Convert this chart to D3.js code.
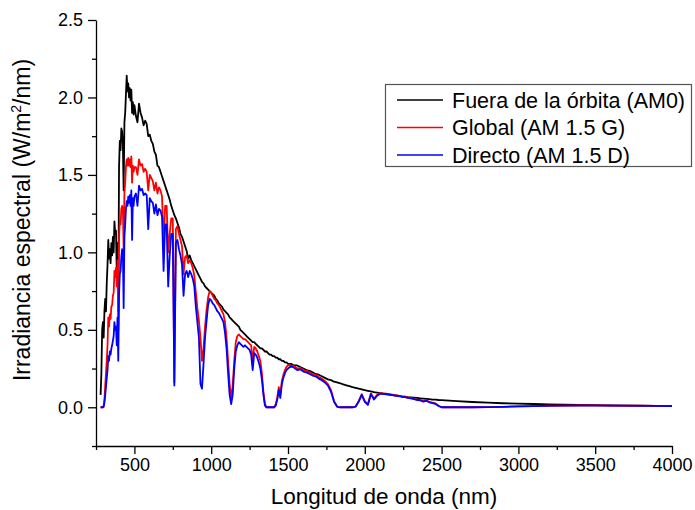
<!DOCTYPE html>
<html>
<head>
<meta charset="utf-8">
<script src="https://cdn.jsdelivr.net/npm/d3@7"></script>
<style>
body { margin: 0; background: #fff; }
#chart { width: 695px; height: 510px; }
text { font-family: Arial, "Liberation Sans", sans-serif; }
</style>
</head>
<body>
<div id="chart"></div>
<script>
// Data (nm, W/m2/nm)
var wavelength = [
    280, 285, 290, 295, 300, 305, 310, 315, 320, 325, 330, 335, 340, 345, 350, 355, 360, 365, 370, 375, 380, 385, 390, 395, 400,
    405, 410, 415, 420, 425, 430, 435, 440, 445, 450, 455, 460, 465, 470, 475, 480, 485, 490, 495, 500,
    510, 520, 530, 540, 550, 560, 570, 580, 590, 600, 610, 620, 630, 640, 650, 660, 670, 680, 690, 700, 710, 720, 730, 740, 750,
    760, 770, 780, 790, 800, 810, 820, 830, 840, 850, 860, 870, 880, 890, 900, 910, 920, 930, 940, 950, 960, 970, 980, 990, 1000,
    1010, 1020, 1030, 1040, 1050, 1060, 1070, 1080, 1090, 1100, 1110, 1120, 1130, 1140, 1150, 1160, 1170, 1180, 1190, 1200,
    1210, 1220, 1230, 1240, 1250, 1260, 1270, 1280, 1290, 1300, 1310, 1320, 1330, 1340, 1350, 1360, 1370, 1380, 1390, 1400,
    1410, 1420, 1430, 1440, 1450, 1460, 1470, 1480, 1490, 1500,
    1520, 1540, 1560, 1580, 1600, 1620, 1640, 1660, 1680, 1700, 1720, 1740, 1760, 1780, 1800, 1820, 1840, 1860, 1880, 1900,
    1920, 1940, 1960, 1980, 2000, 2020, 2040, 2060, 2080, 2100, 2120, 2140, 2160, 2180, 2200, 2220, 2240, 2260, 2280, 2300,
    2320, 2340, 2360, 2380, 2400, 2420, 2440, 2460, 2480, 2500,
    2600, 2700, 2800, 2900, 3000, 3100, 3200, 3300, 3400, 3500, 3600, 3700, 3800, 3900, 4000
];

var am0 = [
    0.08, 0.22, 0.50, 0.55, 0.45, 0.62, 0.70, 0.62, 0.80, 0.92, 1.08, 0.96, 1.02, 0.93, 1.06, 0.98, 1.10, 1.00, 1.20, 1.12,
    1.14, 0.88, 1.06, 0.62, 1.55, 1.72, 1.66, 1.80, 1.78, 1.70, 1.40, 1.84, 1.90, 2.02, 2.14, 2.04, 2.09, 2.00, 2.06, 1.98,
    2.05, 1.90, 1.97, 1.89, 1.95,
    1.88, 1.84, 1.96, 1.90, 1.87, 1.82, 1.85, 1.83, 1.75, 1.76, 1.72, 1.70, 1.65, 1.63, 1.56, 1.55, 1.52, 1.49, 1.46, 1.43,
    1.40, 1.37, 1.34, 1.30, 1.27, 1.24, 1.22, 1.19, 1.16, 1.12, 1.10, 1.07, 1.04, 1.01, 0.96, 0.98, 0.95, 0.93, 0.91, 0.89,
    0.87, 0.85, 0.83, 0.81, 0.80, 0.78, 0.77, 0.76, 0.75, 0.74,
    0.73, 0.72, 0.70, 0.69, 0.67, 0.66, 0.65, 0.63, 0.62, 0.61, 0.60, 0.58, 0.57, 0.56, 0.55, 0.54, 0.53, 0.52, 0.50, 0.49,
    0.48, 0.47, 0.46, 0.45, 0.44, 0.43, 0.42, 0.42, 0.41, 0.40, 0.39, 0.38, 0.38, 0.37, 0.36, 0.36, 0.35, 0.34, 0.34, 0.33,
    0.33, 0.32, 0.32, 0.31, 0.31, 0.30, 0.30, 0.29, 0.29, 0.28,
    0.28, 0.27, 0.27, 0.26, 0.25, 0.24, 0.235, 0.225, 0.215, 0.21, 0.20, 0.19, 0.18, 0.175, 0.165, 0.16, 0.155, 0.148, 0.142, 0.136,
    0.13, 0.125, 0.12, 0.115, 0.11, 0.106, 0.102, 0.098, 0.095, 0.092, 0.088, 0.085, 0.082, 0.079, 0.076, 0.074, 0.071, 0.069, 0.066, 0.064,
    0.062, 0.06, 0.058, 0.056, 0.054, 0.052, 0.05, 0.049, 0.047, 0.046,
    0.040, 0.034, 0.030, 0.026, 0.023, 0.021, 0.019, 0.017, 0.015, 0.014, 0.012, 0.011, 0.010, 0.009, 0.0085
];

var globalAM15 = [
    0, 0, 0, 0, 0.01, 0.05, 0.14, 0.22, 0.30, 0.40, 0.58, 0.52, 0.60, 0.57, 0.65, 0.66, 0.72, 0.74, 0.88, 0.84,
    0.90, 0.78, 0.95, 0.50, 1.10, 1.20, 1.18, 1.28, 1.30, 1.28, 1.02, 1.38, 1.45, 1.55, 1.60, 1.56, 1.61, 1.56, 1.60, 1.55,
    1.62, 1.45, 1.56, 1.52, 1.55,
    1.55, 1.50, 1.60, 1.56, 1.57, 1.52, 1.54, 1.52, 1.40, 1.50, 1.48, 1.46, 1.40, 1.45, 1.38, 1.42, 1.40, 1.36, 1.05, 1.30,
    1.30, 1.00, 1.12, 1.22, 1.22, 0.16, 1.15, 1.17, 1.12, 1.08, 1.04, 0.86, 0.97, 0.98, 0.93, 0.95, 0.93, 0.90, 0.85, 0.74,
    0.64, 0.56, 0.45, 0.30, 0.38, 0.52, 0.63, 0.71, 0.75, 0.74,
    0.72, 0.70, 0.69, 0.67, 0.66, 0.64, 0.62, 0.60, 0.55, 0.45, 0.30, 0.15, 0.06, 0.14, 0.30, 0.42, 0.46, 0.47, 0.46, 0.45,
    0.44, 0.44, 0.43, 0.42, 0.41, 0.40, 0.30, 0.39, 0.38, 0.36, 0.33, 0.30, 0.22, 0.10, 0.02, 0, 0, 0, 0, 0,
    0, 0.02, 0.06, 0.13, 0.08, 0.17, 0.21, 0.24, 0.26, 0.27,
    0.27, 0.265, 0.25, 0.255, 0.24, 0.235, 0.225, 0.215, 0.21, 0.195, 0.185, 0.17, 0.15, 0.11, 0.04, 0.005, 0, 0, 0, 0,
    0, 0.005, 0.04, 0.085, 0.04, 0.02, 0.09, 0.055, 0.08, 0.092, 0.09, 0.088, 0.085, 0.082, 0.078, 0.075, 0.07, 0.068, 0.063, 0.06,
    0.055, 0.05, 0.048, 0.04, 0.045, 0.035, 0.03, 0.025, 0.01, 0,
    0, 0, 0.001, 0.003, 0.006, 0.008, 0.010, 0.011, 0.012, 0.012, 0.011, 0.010, 0.010, 0.009, 0.0085
];

var directAM15 = [
    0, 0, 0, 0, 0.002, 0.03, 0.08, 0.13, 0.19, 0.24, 0.33, 0.30, 0.36, 0.34, 0.38, 0.40, 0.43, 0.46, 0.55, 0.50,
    0.52, 0.40, 0.58, 0.30, 0.72, 0.86, 0.88, 0.97, 1.02, 1.00, 0.64, 1.10, 1.18, 1.28, 1.33, 1.30, 1.36, 1.32, 1.37, 1.30,
    1.40, 1.08, 1.35, 1.30, 1.36,
    1.38, 1.30, 1.43, 1.40, 1.41, 1.37, 1.38, 1.37, 1.15, 1.35, 1.33, 1.32, 1.25, 1.31, 1.24, 1.28, 1.27, 1.23, 0.88, 1.18,
    1.18, 0.78, 0.98, 1.12, 1.12, 0.14, 1.06, 1.08, 1.02, 0.98, 0.92, 0.72, 0.86, 0.88, 0.84, 0.88, 0.86, 0.83, 0.78, 0.65,
    0.55, 0.45, 0.15, 0.12, 0.28, 0.45, 0.56, 0.66, 0.70, 0.69,
    0.67, 0.66, 0.64, 0.62, 0.61, 0.59, 0.57, 0.55, 0.48, 0.38, 0.22, 0.08, 0.02, 0.08, 0.25, 0.36, 0.40, 0.42, 0.41, 0.40,
    0.39, 0.40, 0.39, 0.38, 0.37, 0.34, 0.24, 0.35, 0.34, 0.32, 0.29, 0.25, 0.18, 0.08, 0.01, 0, 0, 0, 0, 0,
    0, 0.01, 0.05, 0.11, 0.06, 0.15, 0.19, 0.22, 0.24, 0.25,
    0.265, 0.255, 0.24, 0.245, 0.23, 0.225, 0.215, 0.205, 0.2, 0.185, 0.175, 0.16, 0.14, 0.10, 0.035, 0.003, 0, 0, 0, 0,
    0, 0.004, 0.035, 0.08, 0.035, 0.015, 0.085, 0.05, 0.075, 0.088, 0.086, 0.084, 0.082, 0.078, 0.075, 0.072, 0.068, 0.065, 0.06, 0.057,
    0.052, 0.047, 0.045, 0.036, 0.042, 0.032, 0.027, 0.022, 0.008, 0,
    0, 0, 0.001, 0.003, 0.006, 0.007, 0.009, 0.010, 0.011, 0.011, 0.010, 0.010, 0.009, 0.009, 0.008
];

var seriesNames = ["Fuera de la órbita (AM0)", "Global (AM 1.5 G)", "Directo (AM 1.5 D)"];
var seriesColors = ["#000000", "#ff0000", "#0000ff"];

var xTicks = [500, 1000, 1500, 2000, 2500, 3000, 3500, 4000];
var xMinorTicks = [250, 750, 1250, 1750, 2250, 2750, 3250, 3750];
var yTicks = [0, 0.5, 1.0, 1.5, 2.0, 2.5];
var yMinorTicks = [-0.25, 0.25, 0.75, 1.25, 1.75, 2.25];

// SVG
var width = 695;
var height = 510;
var svg = d3.select("#chart")
    .append("svg")
    .attr("width", width)
    .attr("height", height);

var x = d3.scaleLinear().domain([250, 4000]).range([96, 672]);
var y = d3.scaleLinear().domain([-0.25, 2.5]).range([446, 20]);

var series = [am0, globalAM15, directAM15].map(function (vals, i) {
    return {
        name: seriesNames[i],
        color: seriesColors[i],
        values: wavelength.map(function (w, j) { return { w: w, e: vals[j] }; })
    };
});

var line = d3.line()
    .x(function (d) { return x(d.w); })
    .y(function (d) { return y(d.e); });

svg.append("g").attr("class", "lines")
    .selectAll("path")
    .data(series).enter()
    .append("path")
    .attr("d", function (d) { return line(d.values); })
    .attr("fill", "none")
    .attr("stroke", function (d) { return d.color; })
    .attr("stroke-width", 1.8)
    .attr("stroke-linejoin", "round");

// Axes
svg.append("g")
    .attr("transform", "translate(0," + y(-0.25) + ")")
    .call(d3.axisBottom(x).tickValues(xTicks).tickSize(8).tickSizeOuter(0).tickPadding(4).tickFormat(d3.format("d")));
svg.append("g")
    .attr("transform", "translate(0," + y(-0.25) + ")")
    .call(d3.axisBottom(x).tickValues(xMinorTicks).tickSize(4).tickFormat(""))
    .select(".domain").remove();

svg.append("g")
    .attr("transform", "translate(" + x(250) + ",0)")
    .call(d3.axisLeft(y).tickValues(yTicks).tickSize(8).tickSizeOuter(0).tickPadding(5).tickFormat(d3.format(".1f")));
svg.append("g")
    .attr("transform", "translate(" + x(250) + ",0)")
    .call(d3.axisLeft(y).tickValues(yMinorTicks).tickSize(4).tickFormat(""))
    .select(".domain").remove();

svg.selectAll(".tick text")
    .style("font-size", "18px")
    .style("font-family", "Arial, 'Liberation Sans', sans-serif")
    .attr("fill", "#000");
svg.selectAll(".domain, .tick line").attr("stroke", "#000").attr("stroke-width", 1.3);

// Titles
svg.append("text")
    .attr("x", 384)
    .attr("y", 504)
    .attr("text-anchor", "middle")
    .style("font-size", "22.5px")
    .text("Longitud de onda (nm)");

var yTitle = svg.append("text")
    .attr("transform", "translate(30,220) rotate(-90)")
    .attr("text-anchor", "middle")
    .style("font-size", "23px");
yTitle.append("tspan").text("Irradiancia espectral (W/m");
yTitle.append("tspan").attr("dy", -9).style("font-size", "14px").text("2");
yTitle.append("tspan").attr("dy", 9).text("/nm)");

// Legend
var legend = svg.append("g").attr("class", "legend");
legend.append("rect")
    .attr("x", 385.5)
    .attr("y", 84.5)
    .attr("width", 306)
    .attr("height", 82)
    .attr("fill", "#fff")
    .attr("stroke", "#555")
    .attr("stroke-width", 1.2);

var legendRow = legend.selectAll(".legendRow")
    .data(series).enter()
    .append("g")
    .attr("class", "legendRow")
    .attr("transform", function (d, i) { return "translate(0," + (100 + i * 27.5) + ")"; });

legendRow.append("line")
    .attr("x1", 397).attr("x2", 443)
    .attr("stroke", function (d) { return d.color; })
    .attr("stroke-width", 1.6);

legendRow.append("text")
    .attr("x", 452)
    .attr("dy", "0.36em")
    .style("font-size", "21.5px")
    .text(function (d) { return d.name; });
</script>
</body>
</html>
